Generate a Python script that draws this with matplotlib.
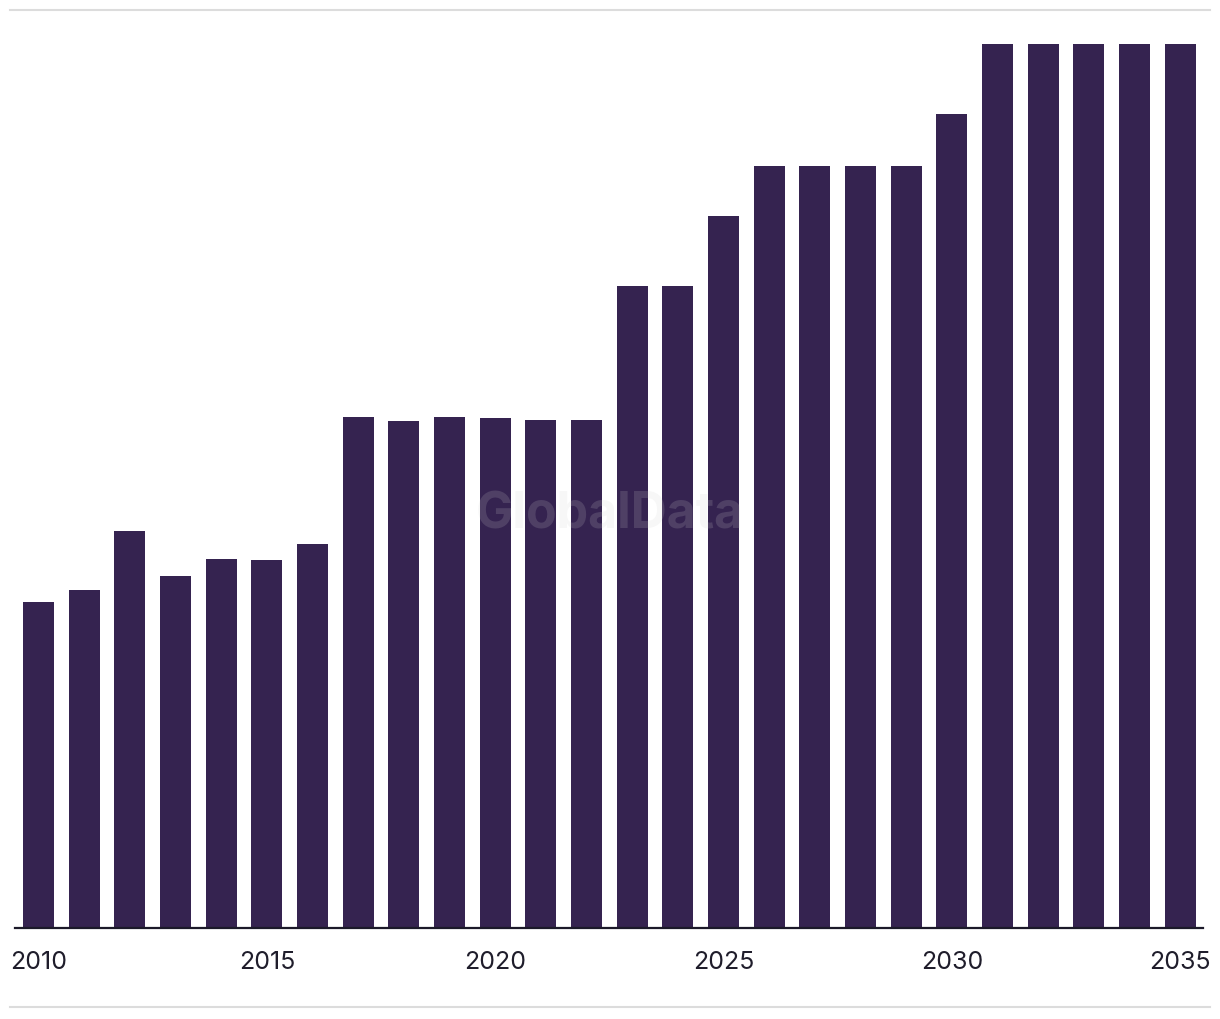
import matplotlib
matplotlib.use("Agg")
import matplotlib.pyplot as plt
from matplotlib.lines import Line2D

years = list(range(2010, 2036))
values = [325, 337, 396, 351, 368, 367, 383,
          510, 506, 510, 509, 507, 507,
          641, 641, 711, 761, 761, 761, 761,
          813, 883, 883, 883, 883, 883]
tick_years = [2010, 2015, 2020, 2025, 2030, 2035]

W, H = 1220, 1020
fig = plt.figure(figsize=(W / 100, H / 100), dpi=100)
fig.patch.set_facecolor("white")

left, right = 15 / W, 1203 / W
bottom, top = (H - 928.5) / H, (H - 45) / H
ax = fig.add_axes([left, bottom, right - left, top - bottom])

ax.bar(years, values, width=0.68, color="#352350", zorder=2)
ax.set_xlim(years[0] - 0.515, years[-1] + 0.5)
ax.set_ylim(0, max(values))

for s in ["top", "right", "left"]:
    ax.spines[s].set_visible(False)
ax.spines["bottom"].set_color("#1b1929")
ax.spines["bottom"].set_linewidth(1.6)
ax.spines["bottom"].set_zorder(3)
ax.set_yticks([])
ax.set_xticks(tick_years)
ax.set_xticklabels([str(y) for y in tick_years], fontsize=18,
                   family=["Inter", "DejaVu Sans"], color="#1f1d2b")
ax.tick_params(axis="x", length=0, pad=16)

# watermark
fig.text(610 / W, 1 - 515 / H, "GlobalData", ha="center", va="center",
         fontsize=36, fontweight="bold", family=["Inter", "DejaVu Sans"],
         color="#d0d0d0", alpha=0.17, zorder=5)

# top and bottom rules
fig.add_artist(Line2D([10 / W, 1210 / W], [1 - 11 / H, 1 - 11 / H],
                      color="#dcdcdc", linewidth=1.5))
fig.add_artist(Line2D([10 / W, 1210 / W], [1 - 1008 / H, 1 - 1008 / H],
                      color="#dcdcdc", linewidth=1.5))

fig.savefig("out.png", dpi=100, facecolor="white")
